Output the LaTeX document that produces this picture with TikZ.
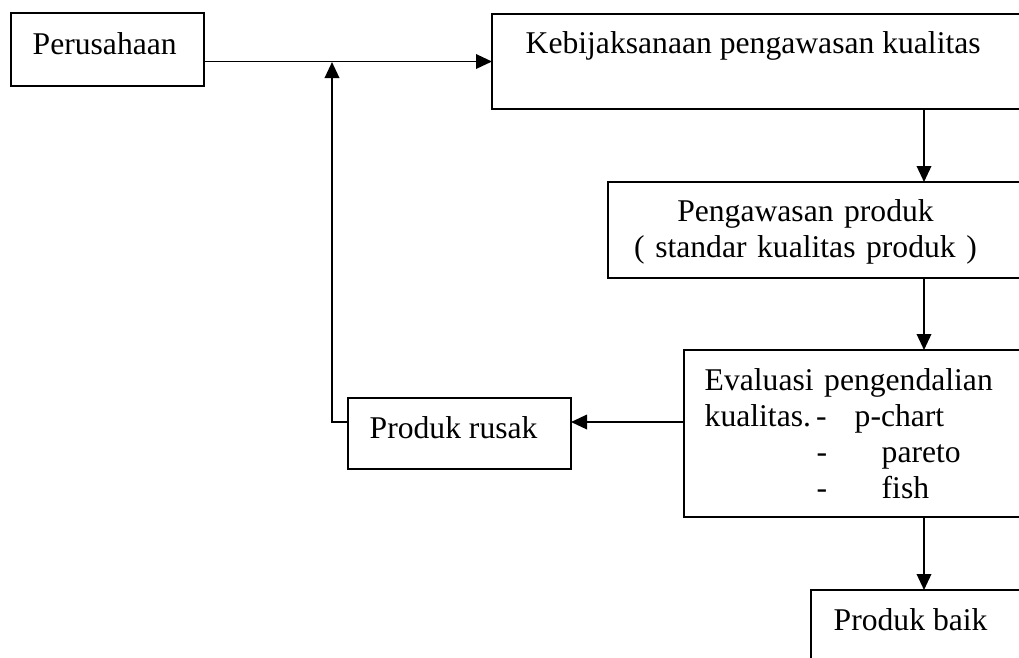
\documentclass[tikz,border=0pt]{standalone}
\usepackage{fontspec}
\setmainfont{Liberation Serif}
\usetikzlibrary{positioning,arrows.meta}

\begin{document}
\begin{tikzpicture}[
    box/.style={draw, line width=0.55pt, anchor=north west, inner sep=0pt, outer sep=0pt},
    txt/.style={inner sep=0pt, font=\fontsize{9}{10.3}\selectfont},
    arr/.style={line width=0.55pt, -{Triangle[length=0.16cm,width=0.145cm]}}
  ]
  \useasboundingbox (0,0) rectangle (10.19,-6.57);
  \clip (0,0) rectangle (10.19,-6.57);

  % Kotak
  \node[box, minimum width=1.93cm, minimum height=0.73cm] (per) at (0.11,-0.13) {};
  \node[box, minimum width=5.40cm, minimum height=0.95cm] (keb) at (4.92,-0.14) {};
  \node[box, minimum width=4.30cm, minimum height=0.96cm] (peng) at (6.08,-1.82) {};
  \node[box, minimum width=3.60cm, minimum height=1.67cm] (eval) at (6.84,-3.50) {};
  \node[box, minimum width=2.23cm, minimum height=0.71cm] (rusak) at (3.48,-3.98) {};
  \node[box, minimum width=2.26cm, minimum height=1.00cm] (baik) at (8.11,-5.90) {};

  % Teks
  \node[txt, anchor=base west] (tper) at (0.32,-0.54) {Perusahaan};
  \node[txt, anchor=base west] (tkeb) at (5.25,-0.53) {Kebijaksanaan pengawasan kualitas};
  \node[txt, anchor=base, align=center, text width=3.6cm] (tpeng) at (8.055,-2.21)
    {Pengawasan produk\\( standar kualitas produk )};
  \node[txt, anchor=base west, align=left, text width=3.2cm] (teval) at (7.04,-3.90)
    {Evaluasi pengendalian\\
     \makebox[1.50cm][l]{kualitas.\hspace{0.05cm}-}p-chart\\
     \hspace*{1.12cm}\makebox[0.65cm][l]{-}pareto\\
     \hspace*{1.12cm}\makebox[0.65cm][l]{-}fish};
  \node[txt, anchor=base west] (trusak) at (3.69,-4.38) {Produk rusak};
  \node[txt, anchor=base west] (tbaik) at (8.33,-6.30) {Produk baik};

  % Panah
  \coordinate (col) at (9.24,0);
  \coordinate (balik) at (3.32,-0.62);
  \draw[arr] (per.east |- keb.west) -- (keb.west);
  \draw[arr] (keb.south -| col) -- (peng.north -| col);
  \draw[arr] (peng.south -| col) -- (eval.north -| col);
  \draw[arr] (eval.south -| col) -- (baik.north -| col);
  \draw[arr] ([yshift=0.115cm]eval.west) -- ([yshift=0.115cm]rusak.east);
  \draw[arr] ([yshift=0.115cm]rusak.west) -| (balik);
\end{tikzpicture}
\end{document}
